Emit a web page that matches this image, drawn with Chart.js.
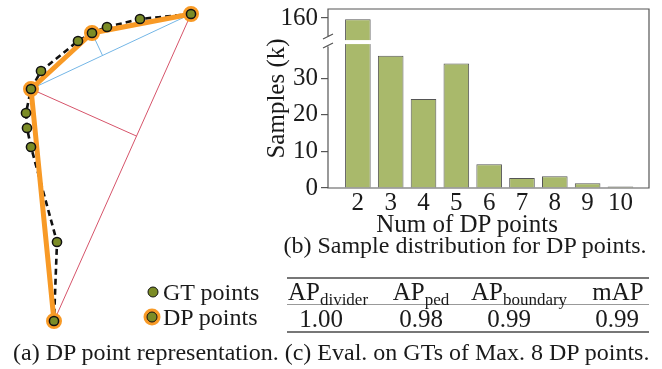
<!DOCTYPE html>
<html>
<head>
<meta charset="utf-8">
<script src="https://cdn.jsdelivr.net/npm/chart.js"></script>
<style>
  html, body { margin: 0; padding: 0; background: #fff; }
  #page { position: relative; width: 662px; height: 369px; overflow: hidden;
          font-family: 'Liberation Serif', 'Times New Roman', serif; color: #1a1a1a; }
  canvas { position: absolute; }
  .txt { position: absolute; white-space: nowrap; line-height: 1; transform: translate(-50%, -50%); }
  .sub { font-size: 17px; position: relative; top: 5px; }
  .rule { position: absolute; left: 287px; width: 362px; background: #777; }
  .dot { position: absolute; border-radius: 50%; box-sizing: border-box; transform: translate(-50%, -50%); }
</style>
</head>
<body>
<div id="page">
  <canvas id="dpChart" width="260" height="340" style="left:0;top:0"></canvas>
  <canvas id="barChart" width="402" height="240" style="left:260px;top:0"></canvas>

  <div class="txt" style="left:467px;top:223px;font-size:25px">Num of DP points</div>
  <div class="txt" style="left:465px;top:245px;font-size:24px">(b) Sample distribution for DP points.</div>

  <!-- legend for (a) -->
  <div class="dot" style="left:153px;top:292px;width:11px;height:11px;background:#7b8c26;border:1.5px solid #111"></div>
  <div class="dot" style="left:152px;top:317px;width:17px;height:17px;background:#f89a26"></div>
  <div class="dot" style="left:152px;top:317px;width:11px;height:11px;background:#7b8c26;border:1.5px solid #111"></div>
  <div class="txt" style="left:163px;top:292px;font-size:24px;transform:translate(0,-50%)">GT points</div>
  <div class="txt" style="left:163px;top:317px;font-size:24px;transform:translate(0,-50%)">DP points</div>

  <!-- table (c) -->
  <div class="rule" style="top:277px;height:1.5px"></div>
  <div class="rule" style="top:304px;height:1px;background:#999"></div>
  <div class="rule" style="top:331px;height:1.5px"></div>
  <div id="tableCells"></div>

  <div class="txt" style="left:13px;top:352px;font-size:24px;transform:translate(0,-50%)">(a) DP point representation. (c) Eval. on GTs of Max. 8 DP points.</div>
</div>

<script>
// ---- (a) GT polyline and its DP simplification ----
const gtX = [191, 140, 107, 92, 78, 41, 31, 26, 27, 31, 57, 54];
const gtY = [326, 321, 313, 307, 299, 269, 251, 227, 212, 193, 98, 19];
const dpX = [191, 92, 31, 54];
const dpY = [326, 307, 251, 19];

// ---- (b) sample distribution ----
const dpCounts = [2, 3, 4, 5, 6, 7, 8, 9, 10];
const samplesK = [159.5, 36.1, 24.3, 34.0, 6.5, 2.7, 3.2, 1.3, 0.4];
const yTickValues = [0, 10, 20, 30, 160];

// ---- (c) evaluation table ----
const tableHeads = [['AP', 'divider'], ['AP', 'ped'], ['AP', 'boundary'], ['mAP', '']];
const tableVals = ['1.00', '0.98', '0.99', '0.99'];

// broken y axis: everything above BREAK_AT is squeezed in above the gap
const BREAK_AT = 40;
const RESUME_AT = 150;
const UPPER_RATIO = 0.645;
const toAxis = v => v <= BREAK_AT ? v : BREAK_AT + (v - RESUME_AT) * UPPER_RATIO;

Chart.defaults.font.family = "'Liberation Serif', 'Times New Roman', serif";
Chart.defaults.color = '#1a1a1a';

const GREEN = '#7b8c26';
const ORANGE = '#f89a26';

const pts = (xs, ys) => xs.map((x, i) => ({x, y: ys[i]}));
const gtPts = pts(gtX, gtY);
const dpPts = pts(dpX, dpY);

// foot of the perpendicular from p onto line a-b
function foot(p, a, b) {
    const dx = b.x - a.x, dy = b.y - a.y;
    const t = ((p.x - a.x) * dx + (p.y - a.y) * dy) / (dx * dx + dy * dy);
    return {x: a.x + t * dx, y: a.y + t * dy};
}

const thin = (data, color) => ({
    data, showLine: true, borderColor: color, borderWidth: 1,
    pointRadius: 0, clip: false
});

new Chart(document.getElementById('dpChart'), {
    type: 'scatter',
    data: {
        datasets: [
            { // GT points on top
                data: gtPts, pointRadius: 4.6, pointBorderWidth: 1.5,
                pointBackgroundColor: GREEN, pointBorderColor: '#111', clip: false
            },
            { // DP polyline
                data: dpPts, showLine: true, borderColor: ORANGE, borderWidth: 5,
                borderCapStyle: 'round', borderJoinStyle: 'round',
                pointRadius: 7, pointBorderWidth: 2,
                pointBackgroundColor: ORANGE, pointBorderColor: ORANGE, clip: false
            },
            { // GT dashed line
                data: gtPts, showLine: true, borderColor: '#111', borderWidth: 2.6,
                borderDash: [6, 4], pointRadius: 0, clip: false
            },
            thin([dpPts[2], dpPts[0]], '#74b6e6'),
            thin([dpPts[1], foot(dpPts[1], dpPts[2], dpPts[0])], '#74b6e6'),
            thin([dpPts[3], dpPts[0]], '#d6546a'),
            thin([dpPts[2], foot(dpPts[2], dpPts[3], dpPts[0])], '#d6546a')
        ]
    },
    options: {
        responsive: false, animation: false, devicePixelRatio: 1,
        layout: { padding: 0, autoPadding: false },
        plugins: { legend: { display: false }, tooltip: { enabled: false } },
        scales: {
            x: { type: 'linear', min: 0, max: 260, display: false },
            y: { type: 'linear', min: 0, max: 340, display: false }
        }
    }
});

// frame, axis break marks and the white gap across the tall bar
const axisBreak = {
    id: 'axisBreak',
    afterDatasetsDraw(chart) {
        const {ctx, chartArea: {left, right, top, bottom}, scales: {y}} = chart;
        const yb = y.getPixelForValue(BREAK_AT);
        ctx.save();
        ctx.fillStyle = '#fff';
        chart.getDatasetMeta(0).data.forEach((bar, i) => {
            if (samplesK[i] > BREAK_AT) {
                ctx.fillRect(bar.x - bar.width / 2 - 1, yb - 1.5, bar.width + 2, 4);
            }
        });
        ctx.strokeStyle = '#555';
        ctx.lineWidth = 1.2;
        ctx.beginPath();
        ctx.moveTo(left, yb - 5);
        ctx.lineTo(left, top);
        ctx.lineTo(right, top);
        ctx.lineTo(right, bottom);
        ctx.lineTo(left, bottom);
        ctx.lineTo(left, yb + 5);
        ctx.moveTo(left - 5, yb - 2.5);
        ctx.lineTo(left + 5, yb - 7.5);
        ctx.moveTo(left - 5, yb + 6.5);
        ctx.lineTo(left + 5, yb + 1.5);
        ctx.stroke();
        ctx.restore();
    }
};

new Chart(document.getElementById('barChart'), {
    type: 'bar',
    data: {
        datasets: [{
            data: dpCounts.map((c, i) => ({x: c, y: toAxis(samplesK[i])})),
            backgroundColor: '#a9b96b',
            borderColor: '#555',
            borderWidth: 1,
            barPercentage: 0.78,
            categoryPercentage: 1
        }]
    },
    options: {
        responsive: false, animation: false, devicePixelRatio: 1,
        layout: { padding: { top: 9, right: 13, left: 0, bottom: 0 } },
        plugins: { legend: { display: false }, tooltip: { enabled: false } },
        scales: {
            x: {
                type: 'linear', min: 1.09, max: 10.87, offset: false,
                grid: { display: false, drawTicks: false },
                border: { display: false },
                ticks: { font: { size: 25 }, padding: 0, color: '#1a1a1a' },
                afterBuildTicks: s => { s.ticks = dpCounts.map(v => ({value: v})); },
                afterFit: s => { s.height = 52; s.paddingLeft = 0; s.paddingRight = 0; }
            },
            y: {
                min: 0, max: 48.9,
                grid: { drawOnChartArea: false, drawTicks: true, tickLength: 7, color: '#555', lineWidth: 1.2 },
                border: { display: false },
                ticks: { font: { size: 25 }, padding: 3, color: '#1a1a1a',
                         callback: (v, i) => yTickValues[i] },
                afterBuildTicks: s => { s.ticks = yTickValues.map(v => ({value: toAxis(v)})); },
                afterFit: s => { s.width = 68; s.paddingTop = 0; s.paddingBottom = 0; },
                title: { display: true, text: 'Samples (k)', font: { size: 25, lineHeight: 1 },
                         padding: { top: 5, bottom: 0 }, color: '#1a1a1a' }
            }
        }
    },
    plugins: [axisBreak]
});

// table cells
const headX = [328, 421, 519, 618];
const valX = [321, 421, 509, 617];
const cells = document.getElementById('tableCells');
tableHeads.forEach(([main, sub], i) => {
    const d = document.createElement('div');
    d.className = 'txt';
    d.style.cssText = `left:${headX[i]}px;top:291px;font-size:25px`;
    d.innerHTML = main + (sub ? `<span class="sub">${sub}</span>` : '');
    cells.appendChild(d);
});
tableVals.forEach((v, i) => {
    const d = document.createElement('div');
    d.className = 'txt';
    d.style.cssText = `left:${valX[i]}px;top:318px;font-size:25px`;
    d.textContent = v;
    cells.appendChild(d);
});
</script>
</body>
</html>
